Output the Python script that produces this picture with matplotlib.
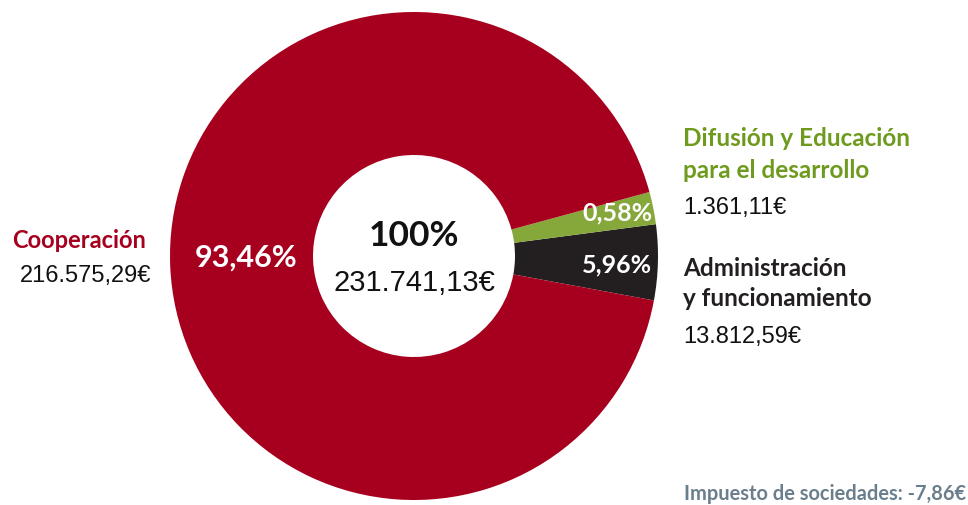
import matplotlib
matplotlib.use("Agg")
import matplotlib.pyplot as plt

# ---- data ----
categories = ["Administración y funcionamiento", "Difusión y Educación para el desarrollo", "Cooperación"]
amounts = ["13.812,59€", "1.361,11€", "216.575,29€"]
pct_labels = ["5,96%", "0,58%", "93,46%"]
# wedge shares as drawn in the reference picture (%)
drawn_shares = [5.0, 2.14, 92.86]
total_pct = "100%"
total_amount = "231.741,13€"
note = "Impuesto de sociedades: -7,86€"

colors = ["#231F20", "#86A83A", "#A6001E"]
BOLD = ["Lato", "DejaVu Sans"]
NUM = ["Liberation Sans", "DejaVu Sans"]

W, H = 968, 505
fig = plt.figure(figsize=(W / 100, H / 100), dpi=100)
ax = fig.add_axes([0, 0, 1, 1])
cx, cy, R, r = 414, H - 256, 244, 101
ax.pie(drawn_shares, colors=colors, startangle=-10.5, counterclock=True,
       center=(cx, cy), radius=R, wedgeprops=dict(width=R - r, linewidth=0))
ax.set_xlim(0, W)
ax.set_ylim(0, H)
ax.set_aspect("equal")
ax.axis("off")

def T(x, y, s, **kw):
    ax.text(x, H - y, s, **kw)

# center
T(414, 236, total_pct, ha="center", va="center", fontsize=25.5, fontweight="bold", family=BOLD, color="#111111")
T(414, 283, total_amount, ha="center", va="center", fontsize=21, family=NUM, color="#111111")

# wedge labels
T(246, 258, pct_labels[2], ha="center", va="center", fontsize=22, fontweight="bold", family=BOLD, color="white")
T(617, 213, pct_labels[1], ha="center", va="center", fontsize=18, fontweight="bold", family=BOLD, color="white")
T(617, 265, pct_labels[0], ha="center", va="center", fontsize=18, fontweight="bold", family=BOLD, color="white")

# left label
T(12, 241, "Cooperación", ha="left", va="center", fontsize=17, fontweight="bold", family=BOLD, color="#A6001E")
T(20, 276, amounts[2], ha="left", va="center", fontsize=17, family=NUM, color="#111111")

# right labels
T(683, 139, "Difusión y Educación", ha="left", va="center", fontsize=17.5, fontweight="bold", family=BOLD, color="#6E9A1E")
T(683, 170, "para el desarrollo", ha="left", va="center", fontsize=17.5, fontweight="bold", family=BOLD, color="#6E9A1E")
T(683, 208, amounts[1], ha="left", va="center", fontsize=17, family=NUM, color="#111111")
T(683, 268, "Administración", ha="left", va="center", fontsize=17.5, fontweight="bold", family=BOLD, color="#231F20")
T(683, 299, "y funcionamiento", ha="left", va="center", fontsize=17.5, fontweight="bold", family=BOLD, color="#231F20")
T(683, 337, amounts[0], ha="left", va="center", fontsize=17, family=NUM, color="#111111")

T(966, 494, note, ha="right", va="center", fontsize=14.4, fontweight="bold", family=BOLD, color="#6A7E8C")

fig.savefig("out.png", dpi=100)
